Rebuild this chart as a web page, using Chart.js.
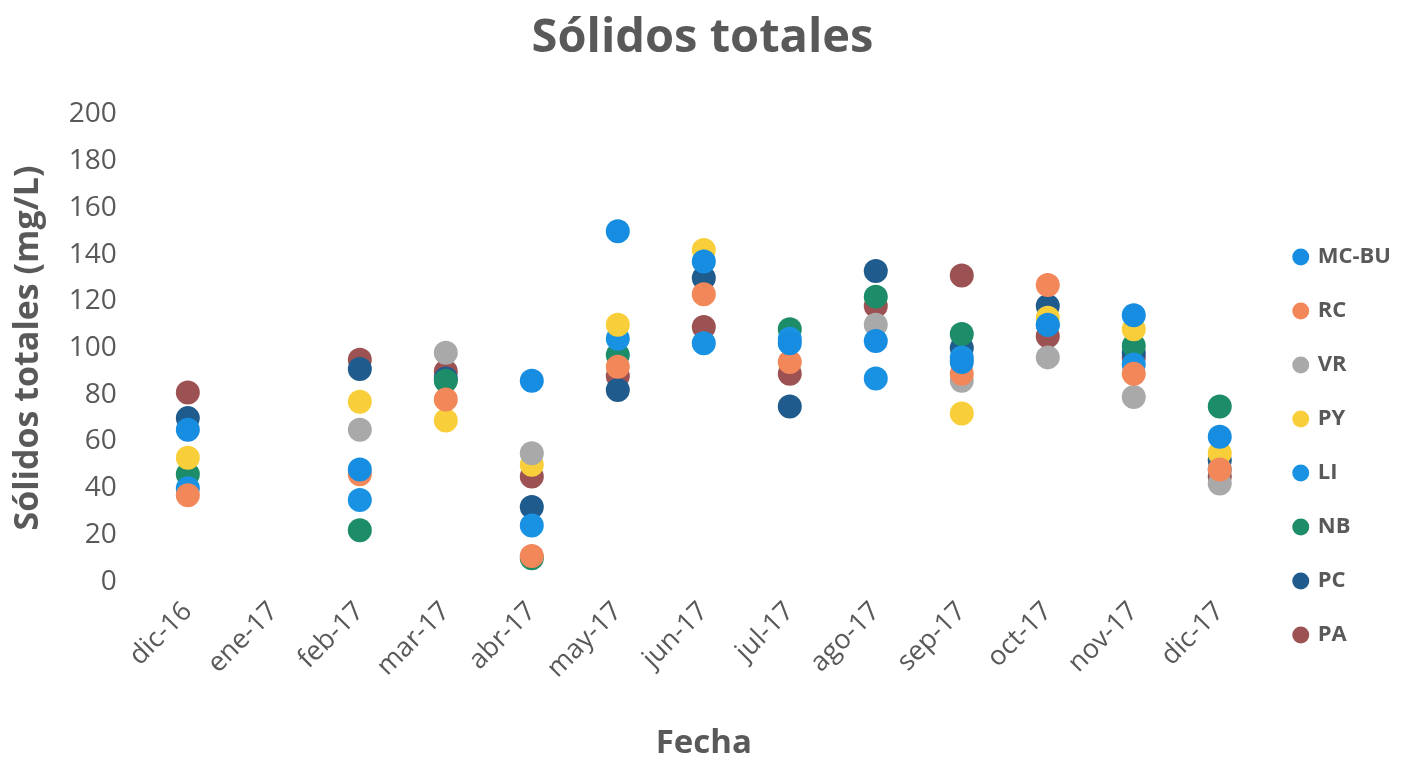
<!DOCTYPE html>
<html>
<head>
<meta charset="utf-8">
<script src="https://cdn.jsdelivr.net/npm/chart.js@4/dist/chart.umd.min.js"></script>
<style>
  html, body { margin: 0; padding: 0; background: #fff; }
  #wrap { width: 1421px; height: 763px; }
</style>
</head>
<body>
<div id="wrap"><canvas id="chart"></canvas></div>
<script>
// Meses de muestreo
const fechas = ["dic-16", "ene-17", "feb-17", "mar-17", "abr-17", "may-17", "jun-17",
                "jul-17", "ago-17", "sep-17", "oct-17", "nov-17", "dic-17"];

// Sólidos totales (mg/L) por punto de muestreo
const mcbu = [65, null, 48, null, 86, 150, 137, 102, 103, 94, 110, 114, 62];
const rc   = [37, null, 46, 78, 11, 92, 123, 94, null, 89, 127, 89, 48];
const vr   = [null, null, 65, 98, 55, null, null, null, 110, 86, 96, 79, 42];
const py   = [53, null, 77, 69, 50, 110, 142, null, null, 72, 113, 108, 55];
const li   = [40, null, 35, null, 24, 104, 102, 104, 87, 96, 110, 93, 48];
const nb   = [46, null, 22, 86, 10, 97, null, 108, 122, 106, null, 101, 75];
const pc   = [70, null, 91, 87, 32, 82, 130, 75, 133, 100, 118, 98, 52];
const pa   = [81, null, 95, 90, 45, 88, 109, 89, 118, 131, 105, 96, 45];

const gris = '#595959';
const fuente = "'Open Sans', 'DejaVu Sans', sans-serif";

function serie(label, data, color) {
    return {
        label: label,
        data: data,
        showLine: false,
        pointRadius: 12,
        pointHoverRadius: 12,
        pointBorderWidth: 0,
        backgroundColor: color,
        borderColor: color
    };
}

let ctx = document.getElementById('chart');

let chart = new Chart(ctx, {
    type: 'line',
    data: {
        labels: fechas,
        datasets: [
            serie('MC-BU', mcbu, '#168de0'),
            serie('RC', rc, '#f2875a'),
            serie('VR', vr, '#a9a9a9'),
            serie('PY', py, '#f8cf3a'),
            serie('LI', li, '#1a92e4'),
            serie('NB', nb, '#1d8c68'),
            serie('PC', pc, '#1f5b8c'),
            serie('PA', pa, '#9c5252')
        ]
    },
    options: {
        responsive: true,
        maintainAspectRatio: false,
        animation: false,
        layout: {
            padding: { left: 4, right: 20, top: 4, bottom: 0 }
        },
        plugins: {
            title: {
                display: true,
                text: 'Sólidos totales',
                color: gris,
                font: { family: fuente, size: 47, weight: 'bold' },
                padding: { top: 6, bottom: 48 }
            },
            legend: {
                display: true,
                position: 'right',
                // título vacío para bajar el bloque de la leyenda
                title: {
                    display: true,
                    text: ' ',
                    font: { size: 10 },
                    padding: { top: 0, bottom: 113 }
                },
                labels: {
                    usePointStyle: true,
                    pointStyle: 'circle',
                    boxWidth: 12,
                    boxHeight: 12,
                    padding: 32,
                    color: gris,
                    font: { family: fuente, size: 22, weight: 'bold' }
                }
            },
            tooltip: { enabled: false }
        },
        scales: {
            x: {
                offset: true,
                grid: { display: false },
                border: { display: false },
                ticks: {
                    color: gris,
                    minRotation: 45,
                    maxRotation: 45,
                    padding: 6,
                    font: { family: fuente, size: 27 }
                },
                title: {
                    display: true,
                    text: 'Fecha',
                    color: gris,
                    font: { family: fuente, size: 33, weight: 'bold' },
                    padding: { top: 33, bottom: 0 }
                }
            },
            y: {
                min: 0,
                max: 200,
                grid: { display: false },
                border: { display: false },
                ticks: {
                    stepSize: 20,
                    color: gris,
                    padding: 20,
                    font: { family: fuente, size: 28 }
                },
                title: {
                    display: true,
                    text: 'Sólidos totales (mg/L)',
                    color: gris,
                    font: { family: fuente, size: 34, weight: 'bold' },
                    padding: { top: 4, bottom: 0 }
                }
            }
        }
    }
});
</script>
</body>
</html>
